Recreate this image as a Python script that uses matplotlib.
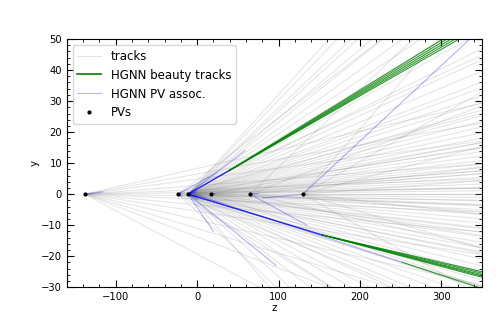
import numpy as np
import matplotlib
matplotlib.use("Agg")
import matplotlib.pyplot as plt
from matplotlib.ticker import AutoMinorLocator

# primary vertices (z positions, all at y = 0)
pv_z = [-138, -23, -11, 17, 65, 130]

# grey tracks: slopes (dy/dz) of tracks leaving each PV
track_slopes = {
    -138: [0.06, 0.047, 0.035, 0.02, 0.01, 0.004, -0.004, -0.012, -0.025,
           -0.04, -0.06, -0.08, -0.1, -0.14],
    -23: [0.2, 0.12, 0.07, 0.04, 0.02, 0.005, -0.01, -0.03, -0.05, -0.08,
          -0.11, -0.16, -0.25],
    -11: [0.289, 0.273, 0.25, 0.24, 0.221, 0.209, 0.19, 0.175, 0.16, 0.145,
          0.13, 0.12, 0.11, 0.10, 0.095, 0.088, 0.082, 0.075, 0.07, 0.065,
          0.06, 0.055, 0.05, 0.046, 0.042, 0.038, 0.034, 0.03, 0.027, 0.024,
          0.021, 0.018, 0.015, 0.012, 0.009, 0.006, 0.003, 0.0, -0.003,
          -0.006, -0.01, -0.014, -0.018, -0.022, -0.026, -0.03, -0.034,
          -0.038, -0.043, -0.048, -0.053, -0.058, -0.064, -0.07, -0.077,
          -0.085, -0.093, -0.1, -0.11, -0.12, -0.135, -0.15, -0.17, -0.2,
          -0.24, -0.3],
    17: [0.05, 0.02, -0.01, -0.04, -0.09],
    65: [0.25, 0.1, 0.03, -0.02, -0.06],
    130: [0.3, 0.15, 0.07, 0.02, 0.0, -0.03, -0.08, -0.15],
}

# HGNN beauty tracks: start (z, y) -> end (z, y), with the PV they are associated to
beauty_pv = [-11, -11, -11, -11, -11, -11, -11, -11, -11, -11, -4]
beauty_z0 = [40, 40, 40, 40, 40, 154, 154, 154, 154, 154, 252]
beauty_y0 = [7.7, 7.7, 7.7, 7.7, 7.7, -13.2, -13.2, -13.2, -13.2, -13.2, -22.0]
beauty_z1 = [302, 307, 312, 317, 322, 350, 350, 350, 350, 350, 345]
beauty_y1 = [50, 50, 50, 50, 50, -25.0, -25.5, -26.0, -26.4, -26.8, -30]

# other PV association lines: PV z -> track first point (z, y)
assoc_pv = [130, 130, 65, 65, -11, -11, -11, -23, -23, -23, -138, -11, -11, -11, -11, 17]
assoc_z = [335, 80, 135, 75, 59, 97, 20, 24, -19, -19, -116, 0, 0, 1, -2, 22]
assoc_y = [50, -1.3, -10, 0.2, 14, -23, -12, 7, 0.8, -0.8, 0.7, 1.0, -1.0, -1.6, 0.5, 0.2]

fig, ax = plt.subplots(figsize=(4.99, 3.23), dpi=100)
fig.subplots_adjust(left=0.134, right=0.966, top=0.879, bottom=0.111)

z_end = 350
first = True
for z0, slopes in track_slopes.items():
    for s in slopes:
        ax.plot([z0, z_end], [0, s * (z_end - z0)], color="grey", alpha=0.2,
                lw=0.8, label="tracks" if first else None)
        first = False

for i, pz in enumerate(assoc_pv):
    ax.plot([pz, assoc_z[i]], [0, assoc_y[i]], color="blue", alpha=0.3, lw=0.8)

first = True
for i in range(len(beauty_pv)):
    ax.plot([beauty_pv[i], beauty_z0[i]], [0, beauty_y0[i]], color="blue",
            alpha=0.3, lw=0.8, label="HGNN PV assoc." if first else None)
    ax.plot([beauty_z0[i], beauty_z1[i]], [beauty_y0[i], beauty_y1[i]],
            color="green", alpha=0.8, lw=0.8)
    first = False

ax.plot([], [], color="green", lw=1.2, label="HGNN beauty tracks")
ax.plot(pv_z, np.zeros(len(pv_z)), ".", color="black", ms=4, label="PVs")

handles, labels = ax.get_legend_handles_labels()
order = [labels.index(l) for l in ["tracks", "HGNN beauty tracks", "HGNN PV assoc.", "PVs"]]
ax.legend([handles[i] for i in order], [labels[i] for i in order],
          loc="upper left", fontsize=8.5)

ax.set_xlim(-160, 350)
ax.set_ylim(-30, 50)
ax.set_xlabel("z", fontsize=7.5, labelpad=1)
ax.set_ylabel("y", fontsize=7.5, labelpad=1)
ax.xaxis.set_minor_locator(AutoMinorLocator(5))
ax.yaxis.set_minor_locator(AutoMinorLocator(5))
ax.tick_params(which="both", direction="in", top=True, right=True, labelsize=7.2)
ax.tick_params(which="major", length=5)
ax.tick_params(which="minor", length=2.5)

fig.savefig("out.png")
